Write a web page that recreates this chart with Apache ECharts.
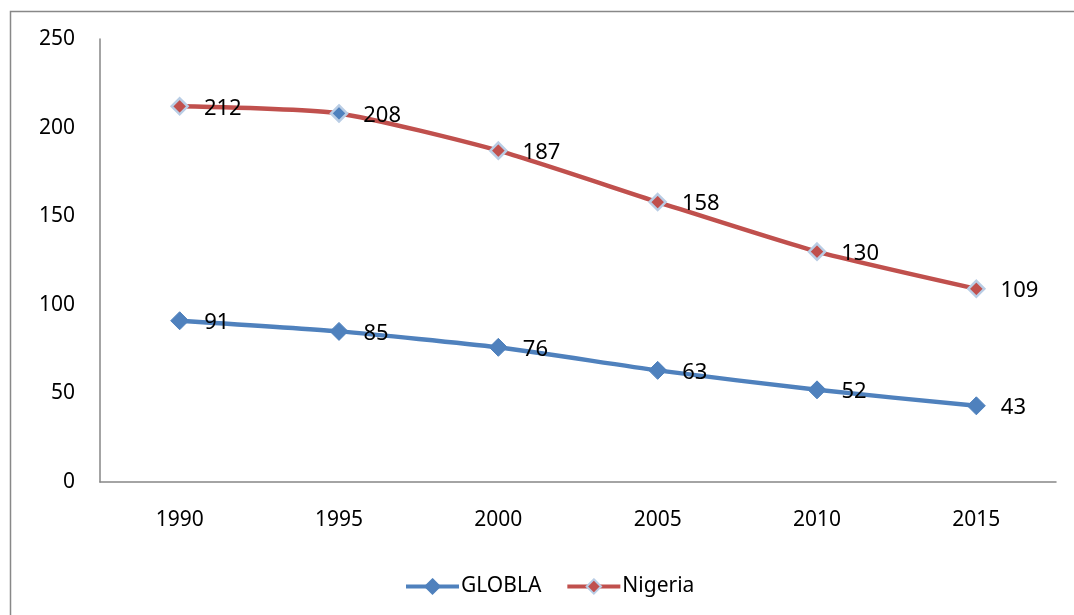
<!DOCTYPE html>
<html>
<head>
<meta charset="utf-8">
<script src="https://cdn.jsdelivr.net/npm/echarts@6/dist/echarts.min.js"></script>
<style>
  html, body { margin: 0; padding: 0; background: #fff; }
  #chart { width: 1074px; height: 615px; }
</style>
</head>
<body>
<div id="chart"></div>
<script>
// Years on the category axis
const years = ['1990', '1995', '2000', '2005', '2010', '2015'];
// Series values
const globla = [91, 85, 76, 63, 52, 43];
const nigeria = [212, 208, 187, 158, 130, 109];
// Value axis range
const yMin = 0;
const yMax = 250;
const yStep = 50;

const BLUE = '#4F81BD';
const RED = '#C0504D';
const PALE = '#B9CDE5';
const FONT = '"Noto Sans", sans-serif';

const labelStyle = {
  show: true,
  position: 'right',
  distance: 15,
  offset: [0, 2],
  color: '#000',
  fontFamily: FONT,
  fontSize: 22
};

const chart = echarts.init(document.getElementById('chart'));
chart.setOption({
  animation: false,
  graphic: [{
    type: 'rect',
    shape: { x: 10.5, y: 11.5, width: 1200, height: 800 },
    style: { fill: 'none', stroke: '#888', lineWidth: 1.5 },
    silent: true
  }],
  grid: { left: 100, right: 18, top: 39, bottom: 133 },
  legend: {
    bottom: 13,
    left: 399,
    itemWidth: 53,
    itemHeight: 18,
    itemGap: 24,
    lineStyle: { width: 4 },
    textStyle: { fontFamily: FONT, fontSize: 21, color: '#000', padding: [0, 0, 0, -3] },
    data: [
      { name: 'GLOBLA', itemStyle: { color: BLUE, borderColor: BLUE } },
      { name: 'Nigeria', itemStyle: { color: RED, borderColor: PALE, borderWidth: 2 } }
    ]
  },
  xAxis: {
    type: 'category',
    data: years,
    boundaryGap: true,
    axisLine: { lineStyle: { color: '#868686', width: 1.5 } },
    axisTick: { show: false },
    axisLabel: { margin: 28, color: '#000', fontFamily: FONT, fontSize: 21 }
  },
  yAxis: {
    type: 'value',
    min: yMin,
    max: yMax,
    interval: yStep,
    splitLine: { show: false },
    axisLine: { show: true, lineStyle: { color: '#868686', width: 1.5 } },
    axisTick: { show: false },
    axisLabel: { margin: 25, color: '#000', fontFamily: FONT, fontSize: 21 }
  },
  series: [
    {
      name: 'GLOBLA',
      type: 'line',
      data: globla,
      smooth: 0.2,
      symbol: 'diamond',
      symbolSize: 18,
      lineStyle: { color: BLUE, width: 4.5 },
      itemStyle: { color: BLUE, borderColor: BLUE, borderWidth: 1 },
      label: labelStyle
    },
    {
      name: 'Nigeria',
      type: 'line',
      data: nigeria,
      smooth: 0.2,
      symbol: 'diamond',
      symbolSize: 16,
      lineStyle: { color: RED, width: 4.5 },
      itemStyle: {
        // the 1995 point carries a blue fill
        color: (p) => (p.dataIndex === 1 ? BLUE : RED),
        borderColor: PALE,
        borderWidth: 2.5
      },
      label: labelStyle
    }
  ]
});
</script>
</body>
</html>
